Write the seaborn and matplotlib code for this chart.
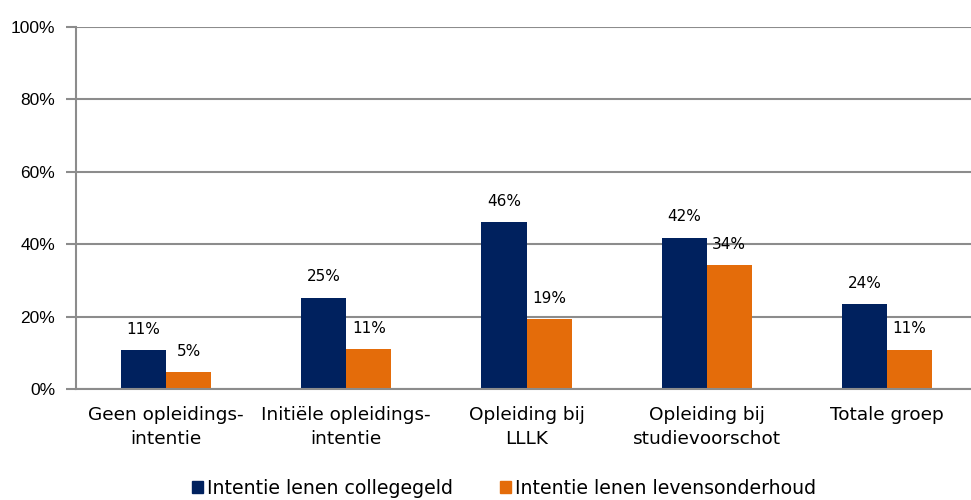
import pandas as pd
import numpy as np
import seaborn as sns
import matplotlib.pyplot as plt
from matplotlib.patches import Patch

# data
categories = ['Geen opleidings-\nintentie', 'Initiële opleidings-\nintentie',
              'Opleiding bij\nLLLK', 'Opleiding bij\nstudievoorschot', 'Totale groep']
collegegeld = [10.7, 25.2, 46.1, 41.8, 23.5]
levensonderhoud = [4.6, 11.0, 19.2, 34.3, 10.9]
labels_collegegeld = ['11%', '25%', '46%', '42%', '24%']
labels_levensonderhoud = ['5%', '11%', '19%', '34%', '11%']
series = ['Intentie lenen collegegeld', 'Intentie lenen levensonderhoud']
colors = ['#00215E', '#E46C0A']

df = pd.DataFrame({
    'categorie': categories * 2,
    'serie': [series[0]] * 5 + [series[1]] * 5,
    'waarde': collegegeld + levensonderhoud,
})

sns.set_style('white')
plt.rcParams['font.family'] = ['DejaVu Sans']
plt.rcParams['text.color'] = 'black'
plt.rcParams['xtick.color'] = 'black'
plt.rcParams['ytick.color'] = 'black'

fig = plt.figure(figsize=(9.71, 5.0), dpi=100)
ax = fig.add_axes([76 / 971, 1 - 389 / 500, 901 / 971, 362 / 500])

sns.barplot(data=df, x='categorie', y='waarde', hue='serie', palette=colors,
            width=0.5, gap=0, linewidth=0, saturation=1, ax=ax, legend=False)

ax.set_xlim(-0.5, 4.5)
ax.set_ylim(0, 100)
ax.set_yticks(np.arange(0, 101, 20))
ax.set_yticklabels([f'{v}%' for v in range(0, 101, 20)], fontsize=12.5,
                   family='Liberation Sans')
ax.yaxis.grid(True, color='#8c8c8c', linewidth=1.5)
ax.set_axisbelow(True)
ax.tick_params(axis='y', which='major', left=True, length=7, width=1.5,
               color='#8c8c8c', labelcolor='black', pad=8)
ax.tick_params(axis='x', bottom=False, labelsize=13.3, labelcolor='black', pad=9)
for t in ax.get_xticklabels():
    t.set_linespacing(1.4)
ax.set_xlabel('')
ax.set_ylabel('')
for side in ['top', 'right']:
    ax.spines[side].set_visible(False)
for side in ['left', 'bottom']:
    ax.spines[side].set_color('#8c8c8c')
    ax.spines[side].set_linewidth(1.5)

for cont, labs in zip(ax.containers, [labels_collegegeld, labels_levensonderhoud]):
    for bar, lab in zip(cont, labs):
        ax.annotate(lab, (bar.get_x() + bar.get_width() / 2, bar.get_height()),
                    xytext=(0, 15), textcoords='offset points',
                    ha='center', va='center', fontsize=11)

handles = [Patch(color=c, label=s) for c, s in zip(colors, series)]
fig.legend(handles=handles, loc='center', bbox_to_anchor=(504 / 971, 12 / 500),
           ncol=2, frameon=False, fontsize=13.6, handlelength=0.6,
           handleheight=0.6, handletextpad=0.2, columnspacing=2.5)

fig.savefig('out.png', dpi=100)
